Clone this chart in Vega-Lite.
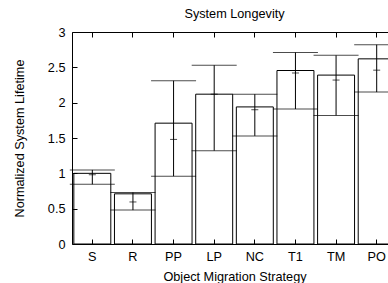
{
  "$schema": "https://vega.github.io/schema/vega-lite/v6.json",
  "autosize": {"type": "none"},
  "padding": {"left": 72, "top": 32, "right": 0, "bottom": 39},
  "width": 316,
  "height": 212,
  "background": "white",
  "config": {
    "view": {"stroke": null},
    "font": "Liberation Sans",
    "axis": {
      "labelFont": "Liberation Sans",
      "titleFont": "Liberation Sans",
      "labelFontSize": 12.7,
      "titleFontSize": 12.7,
      "titleFontWeight": "normal",
      "labelFontWeight": "normal",
      "labelColor": "black",
      "titleColor": "black",
      "domainColor": "black",
      "tickColor": "black",
      "grid": false
    }
  },
  "title": {
    "text": "System Longevity",
    "font": "Liberation Sans",
    "fontSize": 12.7,
    "fontWeight": "normal",
    "color": "black",
    "anchor": "middle",
    "dx": 4.5,
    "offset": 5
  },
  "data": {
    "values": [
      {"strategy": "S", "box": 1.0, "mean": 0.98, "low": 0.845, "high": 1.048},
      {"strategy": "R", "box": 0.71, "mean": 0.595, "low": 0.48, "high": 0.73},
      {"strategy": "PP", "box": 1.71, "mean": 1.48, "low": 0.96, "high": 2.31},
      {"strategy": "LP", "box": 2.12, "mean": 2.12, "low": 1.32, "high": 2.53},
      {"strategy": "NC", "box": 1.94, "mean": 1.9, "low": 1.53, "high": 2.12},
      {"strategy": "T1", "box": 2.455, "mean": 2.42, "low": 1.91, "high": 2.71},
      {"strategy": "TM", "box": 2.39, "mean": 2.32, "low": 1.82, "high": 2.67},
      {"strategy": "PO", "box": 2.62, "mean": 2.46, "low": 2.15, "high": 2.82}
    ]
  },
  "layer": [
    {
      "mark": {"type": "bar", "fill": "transparent", "stroke": "black", "strokeWidth": 1},
      "encoding": {
        "x": {
          "field": "strategy",
          "type": "nominal",
          "sort": null,
          "scale": {"range": [0, 325], "paddingInner": 0.09, "paddingOuter": 0.045},
          "axis": {
            "orient": "bottom",
            "title": "Object Migration Strategy",
            "titleX": 162.5,
            "titlePadding": 8,
            "labelAngle": 0,
            "labelPadding": 11,
            "tickSize": -5,
            "domainWidth": 1,
            "tickWidth": 1
          }
        },
        "y": {
          "field": "box",
          "type": "quantitative",
          "scale": {"domain": [0, 3], "nice": false, "zero": true},
          "axis": {
            "title": "Normalized System Lifetime",
            "values": [0, 0.5, 1, 1.5, 2, 2.5, 3],
            "format": "~g",
            "labelOverlap": false,
            "labelFlush": false,
            "tickSize": -5,
            "labelPadding": 12,
            "titlePadding": 21
          }
        }
      }
    },
    {
      "mark": {"type": "rule", "color": "black", "strokeWidth": 1},
      "encoding": {
        "x": {"field": "strategy", "type": "nominal", "sort": null, "axis": null},
        "y": {"field": "low", "type": "quantitative", "axis": null},
        "y2": {"field": "high"}
      }
    },
    {
      "mark": {"type": "tick", "color": "black", "size": 45, "thickness": 1},
      "encoding": {
        "x": {"field": "strategy", "type": "nominal", "sort": null, "axis": null},
        "y": {"field": "low", "type": "quantitative", "axis": null}
      }
    },
    {
      "mark": {"type": "tick", "color": "black", "size": 45, "thickness": 1},
      "encoding": {
        "x": {"field": "strategy", "type": "nominal", "sort": null, "axis": null},
        "y": {"field": "high", "type": "quantitative", "axis": null}
      }
    },
    {
      "mark": {"type": "tick", "color": "black", "size": 7, "thickness": 1},
      "encoding": {
        "x": {"field": "strategy", "type": "nominal", "sort": null, "axis": null},
        "y": {"field": "mean", "type": "quantitative", "axis": null}
      }
    },
    {
      "mark": {"type": "rule", "color": "black", "strokeWidth": 1},
      "encoding": {
        "x": {
          "field": "strategy",
          "type": "nominal",
          "sort": null,
          "axis": {
            "orient": "top",
            "title": null,
            "labels": false,
            "tickSize": -5,
            "domainWidth": 1
          }
        },
        "y": {"field": "mean", "type": "quantitative", "axis": null},
        "y2": {"field": "mean"},
        "opacity": {"value": 0}
      }
    }
  ],
  "resolve": {"axis": {"x": "independent", "y": "independent"}}
}
